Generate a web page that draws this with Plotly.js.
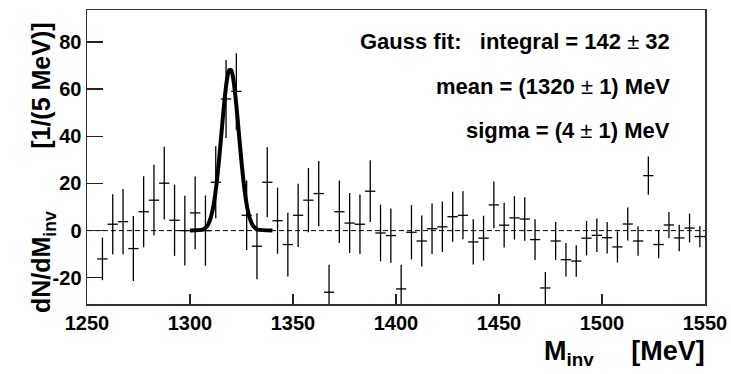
<!DOCTYPE html>
<html>
<head>
<meta charset="utf-8">
<script src="https://cdn.plot.ly/plotly-3.0.1.min.js"></script>
<style>html,body{margin:0;padding:0;background:#fff;}#chart{width:731px;height:374px;}</style>
</head>
<body>
<div id="chart"></div>
<script>
// Histogram bin centres (MeV), 5 MeV bins; the first bin (1252.5) is empty
const binCenters = [1257.5,1262.5,1267.5,1272.5,1277.5,1282.5,1287.5,1292.5,1297.5,
  1302.5,1307.5,1312.5,1317.5,1322.5,1327.5,1332.5,1337.5,1342.5,1347.5,
  1352.5,1357.5,1362.5,1367.5,1372.5,1377.5,1382.5,1387.5,1392.5,1397.5,
  1402.5,1407.5,1412.5,1417.5,1422.5,1427.5,1432.5,1437.5,1442.5,1447.5,
  1452.5,1457.5,1462.5,1467.5,1472.5,1477.5,1482.5,1487.5,1492.5,1497.5,
  1502.5,1507.5,1512.5,1517.5,1522.5,1527.5,1532.5,1537.5,1542.5,1547.5];
const counts = [-12,2.7,3.8,-7.6,8.0,12.9,20.1,4.4,0,
  7.5,0,20.5,55.8,59.0,6.5,-6.6,20.5,4.2,-5.9,
  6.5,12.9,15.7,-26.1,8.0,3.2,2.7,16.7,-1.0,-2.1,
  -24.7,-0.7,-4.4,0.8,1.6,5.9,6.5,-4.8,-3.2,10.9,
  2.3,5.4,4.9,-3.8,-24.3,-4.4,-12.3,-12.9,-3.2,-2.0,
  -3.0,-6.9,2.8,-4.4,23.3,-5.9,2.4,-3.1,1.1,-2.5];
const errors = [9,12.7,13.8,13.8,15,15,15.4,15.1,14.8,
  15.4,14.9,15.3,16.5,16.2,14.7,14,14.8,14,13.5,
  13.4,13.6,13.8,11.6,13.2,12.7,12.6,13.1,12,11.5,
  10.2,11.5,10.8,10.7,10.7,10.6,10.2,9.6,9.5,9.9,
  9.5,9.2,9.2,8.6,6.8,8.1,7.1,6.7,7.3,7.1,
  6.7,6.6,7,6.2,8.1,5.8,5.5,5.6,6.1,4.5];
const halfBinWidth = 2.5;

// Gauss fit curve
const fitX = [1300,1306,1307,1308,1309,1310,1311,1312,1313,1314,1315,1316,1317,1318,1319,
  1320,1321,1322,1323,1324,1325,1326,1327,1328,1329,1330,1331,1332,1333,1340];
const fitY = [0,0.4,0.8,1.6,3.0,5.3,8.8,13.9,20.7,29.1,38.6,48.4,57.4,64.3,68.0,
  68.0,64.3,57.4,48.4,38.6,29.1,20.7,13.9,8.8,5.3,3.0,1.6,0.8,0.4,0];

const xTicks = [1250,1300,1350,1400,1450,1500,1550];
const yTicks = [-20,0,20,40,60,80];

const PM = "<span style=\"font-weight:normal\">\u00b1</span>";
const fitLines = [
  "Gauss fit:\u00a0\u00a0\u00a0integral = 142 " + PM + " 32",
  "mean = (1320 " + PM + " 1) MeV",
  "sigma = (4 " + PM + " 1) MeV"
];
const yTitle = "dN/dM<sub>inv</sub>\u00a0\u00a0\u00a0\u00a0\u00a0\u00a0\u00a0\u00a0\u00a0[1/(5 MeV)]";
const xTitle = "M<sub>inv</sub>\u00a0\u00a0\u00a0\u00a0\u00a0[MeV]";

const F = "Liberation Sans, Arial, Helvetica, sans-serif";

const traces = [
  {
    x: binCenters, y: counts, type: 'scatter', mode: 'markers',
    marker: {size: 1, color: 'rgba(0,0,0,0)'},
    error_y: {type: 'data', array: errors, visible: true, thickness: 1.3, width: 0, color: '#000'},
    error_x: {type: 'constant', value: halfBinWidth, visible: true, thickness: 1.3, width: 0, color: '#000'},
    hoverinfo: 'skip', showlegend: false
  },
  {
    x: fitX, y: fitY, type: 'scatter', mode: 'lines',
    line: {color: '#000', width: 4, shape: 'spline', smoothing: 0.6},
    hoverinfo: 'skip', showlegend: false
  }
];

const fitFont = {family: F, size: 22, weight: 'bold', color: '#000'};

const layout = {
  width: 731, height: 374,
  margin: {l: 87, r: 26, t: 10, b: 70},
  paper_bgcolor: '#fff', plot_bgcolor: '#fff',
  showlegend: false,
  font: {family: F, color: '#000'},
  xaxis: {
    range: [1250, 1550], tickvals: xTicks, ticktext: xTicks.map(String),
    ticks: 'inside', ticklen: 10, tickwidth: 1.3, tickcolor: '#222',
    showline: true, linecolor: '#333', linewidth: 1.5, mirror: true,
    showgrid: false, zeroline: false,
    tickfont: {family: F, size: 20, weight: 'bold', color: '#000'}
  },
  yaxis: {
    range: [-31.1, 93.5], tickvals: yTicks, ticktext: yTicks.map(String),
    ticks: 'inside', ticklen: 16, tickwidth: 1.3, tickcolor: '#222',
    showline: true, linecolor: '#333', linewidth: 1.5, mirror: true,
    showgrid: false, zeroline: false,
    tickfont: {family: F, size: 20, weight: 'bold', color: '#000'}
  },
  shapes: [
    {type: 'line', xref: 'x', yref: 'y', x0: 1250, x1: 1550, y0: 0, y1: 0,
     line: {color: '#000', width: 1, dash: '5px,3px'}, layer: 'below'}
  ],
  annotations: [
    {text: fitLines[0], xref: 'paper', yref: 'paper', x: 0.9466, y: 0.893, xanchor: 'right', yanchor: 'middle',
     showarrow: false, font: fitFont},
    {text: fitLines[1], xref: 'paper', yref: 'paper', x: 0.9466, y: 0.740, xanchor: 'right', yanchor: 'middle',
     showarrow: false, font: fitFont},
    {text: fitLines[2], xref: 'paper', yref: 'paper', x: 0.9466, y: 0.590, xanchor: 'right', yanchor: 'middle',
     showarrow: false, font: fitFont},
    {text: yTitle, xref: 'paper', yref: 'paper',
     x: -0.07, y: 0.465, xanchor: 'center', yanchor: 'middle', textangle: -90,
     showarrow: false, font: {family: F, size: 25, weight: 'bold', color: '#000'}},
    {text: xTitle, xref: 'paper', yref: 'paper',
     x: 1.003, y: -0.165, xanchor: 'right', yanchor: 'middle',
     showarrow: false, font: {family: F, size: 27, weight: 'bold', color: '#000'}}
  ]
};

Plotly.newPlot('chart', traces, layout, {staticPlot: true, displayModeBar: false});
</script>
</body>
</html>
